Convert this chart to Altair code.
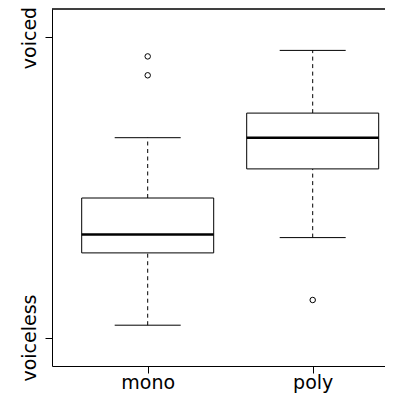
import altair as alt
import pandas as pd

groups = ["mono", "poly"]
whisker_low = [0.041, 0.333]
q1 = [0.282, 0.562]
median = [0.343, 0.666]
q3 = [0.465, 0.748]
whisker_high = [0.666, 0.957]
outlier_group = ["mono", "mono", "poly"]
outlier_value = [0.937, 0.874, 0.125]
y_tick_values = [0, 1]
y_tick_labels = ["voiceless", "voiced"]

box_df = pd.DataFrame({
    "group": groups, "lo": whisker_low, "q1": q1, "med": median,
    "q3": q3, "hi": whisker_high,
})
out_df = pd.DataFrame({"group": outlier_group, "value": outlier_value})

pos_expr = "indexof(" + str(groups) + ", datum.group) + 1"

W, H = 333, 357
xscale = alt.Scale(domain=[0.42, 0.42 + W / 165.0], nice=False, zero=False)
yscale = alt.Scale(domain=[-0.095, 1.095], nice=False, zero=False)

x_axis = alt.Axis(
    values=[1, 2], labelExpr="[" + ", ".join(repr(g) for g in groups) + "][datum.value - 1]",
    title=None, grid=False, domain=True, domainColor="black", domainWidth=1,
    tickSize=7, tickColor="black",
    labelColor="black", labelFontSize=19, labelFont="DejaVu Sans",
    labelBaseline="alphabetic", labelPadding=15.5, labelAngle=0,
)
y_axis = alt.Axis(
    values=y_tick_values,
    labelExpr="datum.value == 0 ? '" + y_tick_labels[0] + "' : '" + y_tick_labels[1] + "'",
    title=None, grid=False, domain=True, domainColor="black", domainWidth=1,
    tickSize=7, tickColor="black",
    labelColor="black", labelFontSize=19, labelFont="DejaVu Sans",
    labelAngle=270, labelAlign="center", labelBaseline="alphabetic", labelPadding=10,
)

base = alt.Chart(box_df).transform_calculate(
    pos=pos_expr
).transform_calculate(
    left="datum.pos - 0.4", right="datum.pos + 0.4",
    cleft="datum.pos - 0.2", cright="datum.pos + 0.2",
)

whisk_low = base.mark_rule(color="black", strokeWidth=1, strokeDash=[4, 3.5]).encode(
    x=alt.X("pos:Q", scale=xscale, axis=x_axis),
    y=alt.Y("lo:Q", scale=yscale, axis=y_axis),
    y2="q1:Q",
)
whisk_high = base.mark_rule(color="black", strokeWidth=1, strokeDash=[4, 3.5]).encode(
    x="pos:Q", y="q3:Q", y2="hi:Q",
)
box = base.mark_rect(fill="white", stroke="black", strokeWidth=1).encode(
    x="left:Q", x2="right:Q", y="q1:Q", y2="q3:Q",
)
med = base.mark_rule(color="black", strokeWidth=2.5).encode(
    x="left:Q", x2="right:Q", y="med:Q",
)
cap_low = base.mark_rule(color="black", strokeWidth=1).encode(
    x="cleft:Q", x2="cright:Q", y="lo:Q",
)
cap_high = base.mark_rule(color="black", strokeWidth=1).encode(
    x="cleft:Q", x2="cright:Q", y="hi:Q",
)
pts = alt.Chart(out_df).transform_calculate(pos=pos_expr).mark_point(
    shape="circle", filled=False, color="black", size=30, strokeWidth=1, opacity=1,
).encode(x="pos:Q", y="value:Q")

# top edge of the plot frame (the right edge lies outside the visible window)
frame_top = alt.Chart(box_df).mark_rule(color="black", strokeWidth=1).encode(
    x=alt.value(0), x2=alt.value(W), y=alt.value(0),
)

chart = alt.layer(
    whisk_low, whisk_high, box, med, cap_low, cap_high, pts, frame_top
).properties(
    width=W, height=H,
    autosize=alt.AutoSizeParams(type="none"),
    padding={"left": 44, "top": 1, "right": 0, "bottom": 27},
).configure(
    background="white"
).configure_view(
    stroke="transparent", strokeWidth=0
)

chart.save("out.html", embed_options={"renderer": "svg", "actions": False})
